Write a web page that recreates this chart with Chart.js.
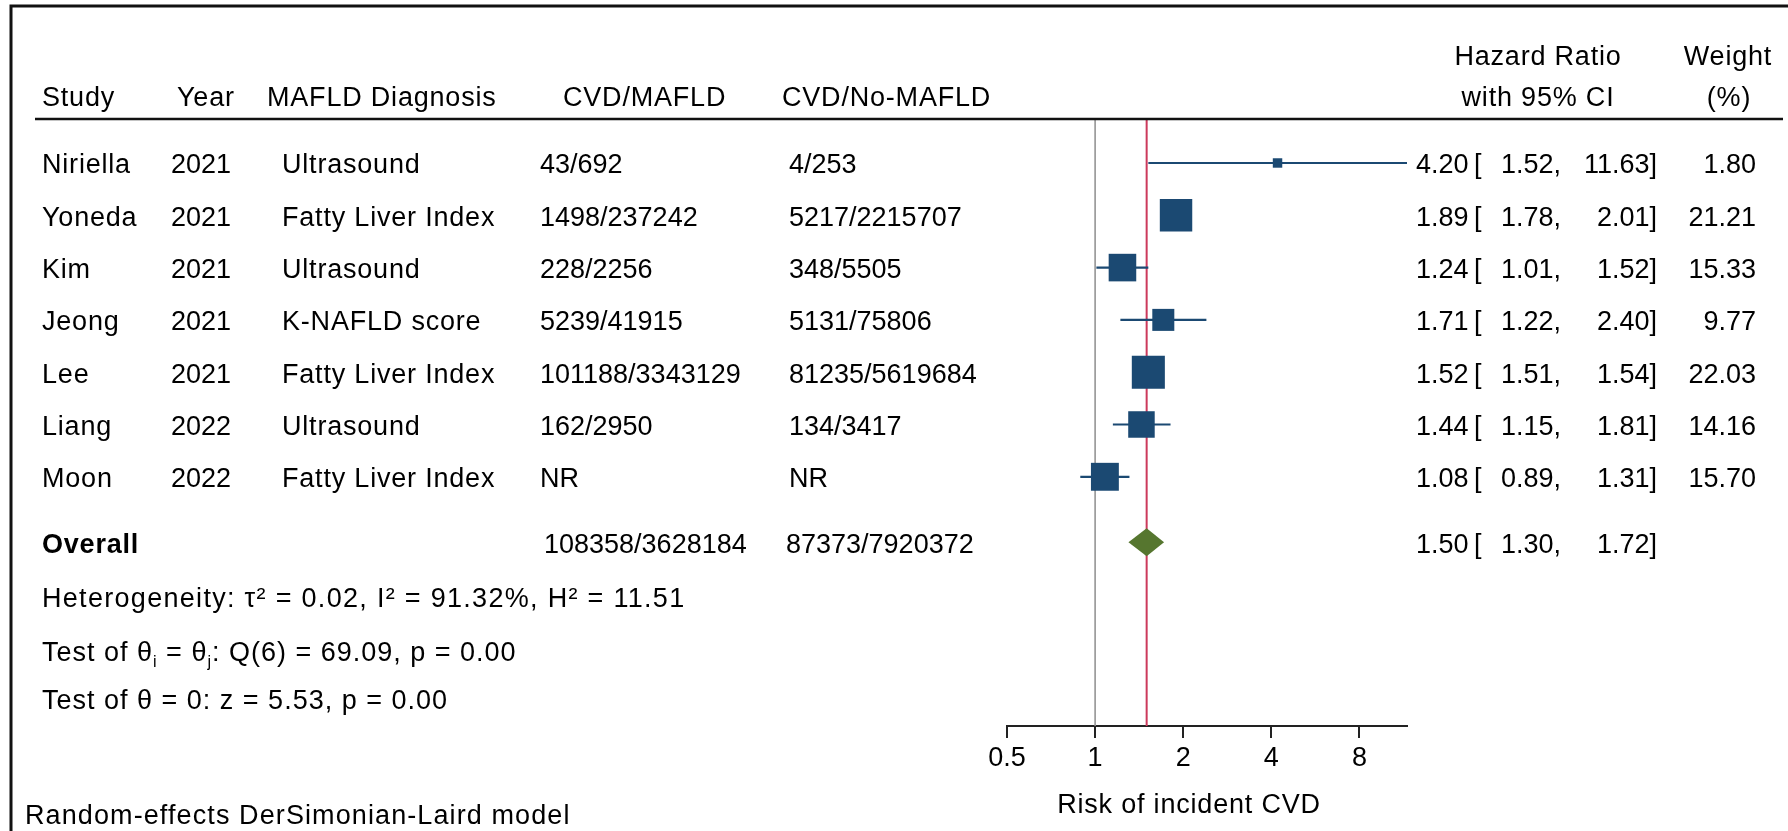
<!DOCTYPE html>
<html>
<head>
<meta charset="utf-8">
<script src="https://cdn.jsdelivr.net/npm/chart.js@4.4.1/dist/chart.umd.min.js"></script>
<style>
  html, body { margin: 0; padding: 0; background: #ffffff; }
  #wrap { position: relative; width: 1788px; height: 831px; }
</style>
</head>
<body>
<div id="wrap"><canvas id="c" width="1788" height="831"></canvas></div>
<script>
// ---------------- data ----------------
const studies    = ['Niriella', 'Yoneda', 'Kim', 'Jeong', 'Lee', 'Liang', 'Moon'];
const years      = ['2021', '2021', '2021', '2021', '2021', '2022', '2022'];
const diagnosis  = ['Ultrasound', 'Fatty Liver Index', 'Ultrasound', 'K-NAFLD score', 'Fatty Liver Index', 'Ultrasound', 'Fatty Liver Index'];
const cvdMafld   = ['43/692', '1498/237242', '228/2256', '5239/41915', '101188/3343129', '162/2950', 'NR'];
const cvdNoMafld = ['4/253', '5217/2215707', '348/5505', '5131/75806', '81235/5619684', '134/3417', 'NR'];
const hr         = [4.20, 1.89, 1.24, 1.71, 1.52, 1.44, 1.08];
const lower      = [1.52, 1.78, 1.01, 1.22, 1.51, 1.15, 0.89];
const upper      = [11.63, 2.01, 1.52, 2.40, 1.54, 1.81, 1.31];
const weights    = [1.80, 21.21, 15.33, 9.77, 22.03, 14.16, 15.70];

const overallLabel  = 'Overall';
const overallCounts = ['108358/3628184', '87373/7920372'];
const overallHR     = [1.50, 1.30, 1.72];   // estimate, lower, upper

const xTicks = [0.5, 1, 2, 4, 8];
const xTitle = 'Risk of incident CVD';
const headers = ['Study', 'Year', 'MAFLD Diagnosis', 'CVD/MAFLD', 'CVD/No-MAFLD'];
const headersRight = [['Hazard Ratio', 'with 95% CI'], ['Weight', '(%)']];
const heterogeneity = 'Heterogeneity: \u03C4\u00B2 = 0.02, I\u00B2 = 91.32%, H\u00B2 = 11.51';
const testQ = ['Test of \u03B8', 'i', ' = \u03B8', 'j', ': Q(6) = 69.09, p = 0.00'];
const testZ = 'Test of \u03B8 = 0: z = 5.53, p = 0.00';
const modelNote = 'Random-effects DerSimonian-Laird model';

// ---------------- styling ----------------
const FONT = '"Liberation Sans", Arial, Helvetica, sans-serif';
const FS = 27;
const NAVY = '#1b4972';
const GREEN = '#56762f';
const RED = '#cc3a5c';
const GREY = '#959595';
const DY = 3;            // visual centring of text
const WORD_SP = '0.8px'; // letter spacing for word labels

const overallRow = studies.length + 0.25;
const yMin = -0.841, yMax = 10.765;

// datasets
const datasets = [];
datasets.push({
  label: 'null', showLine: true, data: [{x: 1, y: yMin}, {x: 1, y: yMax}],
  borderColor: GREY, borderWidth: 1.6, pointRadius: 0, order: 20
});
datasets.push({
  label: 'overall line', showLine: true, data: [{x: overallHR[0], y: yMin}, {x: overallHR[0], y: yMax}],
  borderColor: RED, borderWidth: 2, pointRadius: 0, order: 19
});
studies.forEach((s, i) => {
  datasets.push({
    label: s + ' CI', showLine: true,
    data: [{x: lower[i], y: i}, {x: upper[i], y: i}],
    borderColor: NAVY, borderWidth: 2.2, pointRadius: 0, order: 10
  });
});
datasets.push({
  label: 'HR', showLine: false,
  data: hr.map((v, i) => ({x: v, y: i})),
  pointStyle: 'rect',
  pointRadius: weights.map(w => 4.98 * Math.sqrt(w)),
  pointBackgroundColor: NAVY, pointBorderWidth: 0, borderWidth: 0,
  order: 1
});

function words(ctx, sp) { ctx.letterSpacing = sp || WORD_SP; }
function nums(ctx) { ctx.letterSpacing = '0px'; }

function drawHR(ctx, y, est, lo, up) {
  nums(ctx);
  ctx.textAlign = 'left';
  ctx.fillText(est.toFixed(2), 1416, y);
  ctx.fillText('[', 1474, y);
  ctx.textAlign = 'right';
  ctx.fillText(lo.toFixed(2) + ',', 1561, y);
  ctx.fillText(up.toFixed(2) + ']', 1657, y);
}

const textPlugin = {
  id: 'forestText',
  afterDatasetsDraw(chart) {
    const ctx = chart.ctx;
    const xs = chart.scales.x, ys = chart.scales.y;
    const cy = ys.getPixelForValue(overallRow);
    ctx.save();
    ctx.beginPath();
    ctx.moveTo(xs.getPixelForValue(overallHR[1]), cy);
    ctx.lineTo(xs.getPixelForValue(overallHR[0]), cy - 14);
    ctx.lineTo(xs.getPixelForValue(overallHR[2]), cy);
    ctx.lineTo(xs.getPixelForValue(overallHR[0]), cy + 14);
    ctx.closePath();
    ctx.fillStyle = GREEN;
    ctx.fill();
    ctx.restore();
  },
  afterDraw(chart) {
    const ctx = chart.ctx;
    const ys = chart.scales.y;
    ctx.save();
    // frame
    ctx.strokeStyle = '#111';
    ctx.lineWidth = 3;
    ctx.beginPath();
    ctx.moveTo(11, 831); ctx.lineTo(11, 6); ctx.lineTo(1788, 6);
    ctx.stroke();
    // header rule
    ctx.lineWidth = 2.5;
    ctx.beginPath();
    ctx.moveTo(35, 119); ctx.lineTo(1783, 119);
    ctx.stroke();

    ctx.fillStyle = '#000';
    ctx.textBaseline = 'middle';
    ctx.font = FS + 'px ' + FONT;
    // headers
    words(ctx);
    const hx = [42, 177, 267, 563, 782];
    ctx.textAlign = 'left';
    headers.forEach((h, i) => ctx.fillText(h, hx[i], 96 + DY));
    ctx.textAlign = 'center';
    ctx.fillText(headersRight[0][0], 1538, 55 + DY);
    ctx.fillText(headersRight[0][1], 1538, 96 + DY);
    ctx.fillText(headersRight[1][0], 1728, 55 + DY);
    ctx.fillText(headersRight[1][1], 1729, 96 + DY);

    // study rows
    studies.forEach((s, i) => {
      const y = ys.getPixelForValue(i) + DY;
      ctx.textAlign = 'left';
      words(ctx);
      ctx.fillText(s, 42, y);
      ctx.fillText(diagnosis[i], 282, y);
      nums(ctx);
      ctx.fillText(years[i], 171, y);
      ctx.fillText(cvdMafld[i], 540, y);
      ctx.fillText(cvdNoMafld[i], 789, y);
      drawHR(ctx, y, hr[i], lower[i], upper[i]);
      ctx.textAlign = 'right';
      ctx.fillText(weights[i].toFixed(2), 1756, y);
    });

    // overall row
    const oy = ys.getPixelForValue(overallRow) + DY;
    ctx.textAlign = 'left';
    words(ctx);
    ctx.font = 'bold ' + FS + 'px ' + FONT;
    ctx.fillText(overallLabel, 42, oy);
    ctx.font = FS + 'px ' + FONT;
    nums(ctx);
    ctx.fillText(overallCounts[0], 544, oy);
    ctx.fillText(overallCounts[1], 786, oy);
    drawHR(ctx, oy, overallHR[0], overallHR[1], overallHR[2]);

    // statistics
    ctx.textAlign = 'left';
    words(ctx, '1.3px');
    ctx.fillText(heterogeneity, 42, 597 + DY);
    words(ctx, '1.0px');
    let x = 42;
    testQ.forEach((part, i) => {
      if (i === 1 || i === 3) {
        ctx.font = Math.round(FS * 0.6) + 'px ' + FONT;
        ctx.fillText(part, x, 651 + DY + 9);
        x += ctx.measureText(part).width;
        ctx.font = FS + 'px ' + FONT;
      } else {
        ctx.fillText(part, x, 651 + DY);
        x += ctx.measureText(part).width;
      }
    });
    ctx.fillText(testZ, 42, 699 + DY);
    words(ctx, '1.1px');
    ctx.fillText(modelNote, 25, 814 + DY);

    // axis title
    words(ctx);
    ctx.textAlign = 'center';
    ctx.fillText(xTitle, 1189, 803 + DY);
    ctx.restore();
  }
};

new Chart(document.getElementById('c'), {
  type: 'scatter',
  data: { datasets },
  options: {
    responsive: false,
    animation: false,
    devicePixelRatio: 1,
    layout: { padding: { left: 1007, right: 381, top: 119, bottom: 0 } },
    plugins: { legend: { display: false }, tooltip: { enabled: false } },
    scales: {
      x: {
        type: 'logarithmic',
        min: xTicks[0],
        max: Math.max(...upper),
        afterBuildTicks: (axis) => { axis.ticks = xTicks.map(v => ({ value: v })); },
        afterFit: (axis) => { axis.height = 105; },
        ticks: {
          callback: (v) => String(v),
          font: { family: FONT, size: FS },
          color: '#000', padding: 4, maxRotation: 0, autoSkip: false
        },
        grid: { drawOnChartArea: false, drawTicks: true, tickLength: 12, color: '#222', lineWidth: 2 },
        border: { display: true, color: '#222', width: 2 }
      },
      y: { type: 'linear', min: yMin, max: yMax, reverse: true, display: false }
    }
  },
  plugins: [textPlugin]
});
</script>
</body>
</html>
